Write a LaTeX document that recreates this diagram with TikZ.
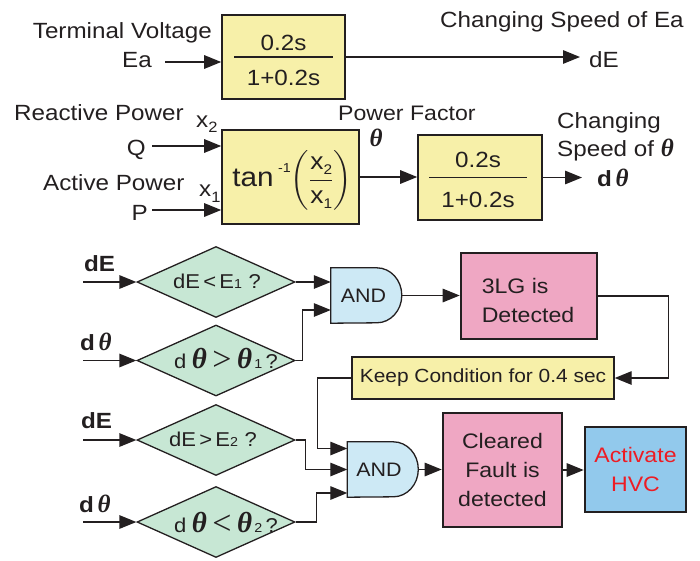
\documentclass[tikz,border=0pt]{standalone}
\usepackage{fontspec}
\usepackage{amsmath}
\setmainfont{Liberation Sans}[FakeStretch=1.1]
\newfontfamily\serifth{Liberation Serif}
\usetikzlibrary{shapes.geometric,arrows.meta,backgrounds,calc}
\definecolor{ink}{HTML}{231F20}
\definecolor{yel}{HTML}{F7F0A9}
\definecolor{grn}{HTML}{C7E7D4}
\definecolor{andc}{HTML}{CDE9F5}
\definecolor{pnk}{HTML}{EFA7C3}
\definecolor{hvcc}{HTML}{92C9EC}
\definecolor{redt}{HTML}{ED1C24}
\newcommand\fs[1]{\fontsize{#1}{#1}\selectfont}
\newcommand\thb[1][25]{{\fontsize{#1}{#1}\selectfont\serifth\bfseries\itshape θ}}
\tikzset{
 lbl/.style={inner sep=0pt, text=ink, font=\fs{22}},
 arr/.style={draw=ink, line width=1.35pt, -{Triangle[length=17pt,width=13.5pt]}},
 ln/.style={draw=ink, line width=1.3pt},
 blk/.style={draw=ink, fill=yel, line width=1.6pt, inner sep=0pt},
 dia/.style={shape=diamond, draw=ink, fill=grn, line width=1.3pt, inner sep=0pt, minimum width=158pt, minimum height=71pt},
 dtxt/.style={inner sep=0pt, anchor=base, text=ink, font=\fs{20}},
 andg/.style={inner sep=0pt, text=ink, minimum width=71pt, minimum height=55pt, font=\fs{19.5}},
 gate/.style={draw=ink, fill=andc, line width=1.3pt},
 res/.style={draw=ink, line width=2.6pt, inner sep=0pt, align=center, text=ink, font=\fontsize{21}{29}\selectfont},
}
\begin{document}
\begin{tikzpicture}[x=1pt,y=-1pt]
\useasboundingbox (0,0) rectangle (700,560);
% ---------- top transfer block ----------
\node[blk, minimum width=123pt, minimum height=84pt] (tf1) at (283.5,57) {};
\node[lbl, anchor=base] (tf1n) at (283.5,50) {0.2s};
\node[lbl, anchor=base] (tf1d) at (283.5,85) {1+0.2s};
\draw[ln] ([xshift=13pt]tf1.west) -- ([xshift=-13pt]tf1.east);
\node[lbl, anchor=base east] (tv) at (212,38) {Terminal Voltage};
\node[lbl, anchor=base east] (ea) at (152,67) {Ea};
\node[lbl, anchor=base west] (cse) at (440,27) {Changing Speed of Ea};
\node[lbl, anchor=base west] (dEl) at (589,67) {dE};
\coordinate (eaS) at (165,62);
\draw[arr] (eaS) -- (eaS -| tf1.west);
\coordinate (dEo) at (580,57);
\draw[arr] (tf1.east) -- (dEo);
% ---------- tan block ----------
\node[blk, minimum width=137pt, minimum height=94pt] (tanb) at (290.5,177) {};
\node[inner sep=0pt, text=ink] (tanx) at (292,180) {\fs{27}tan\,\raisebox{14pt}{\fs{13}-1}$\left(\dfrac{\hbox{\fs{24}x\lower5pt\hbox{\fs{14}2}}}{\hbox{\fs{24}x\lower5pt\hbox{\fs{14}1}}}\right)$};
\node[lbl, anchor=base west] (rp) at (14,120) {Reactive Power};
\node[lbl, anchor=base west] (x2) at (196,127) {x\lower5pt\hbox{\fs{15}2}};
\node[lbl, anchor=base east] (ql) at (146,155) {Q};
\node[lbl, anchor=base west] (apl) at (43,190) {Active Power};
\node[lbl, anchor=base west] (x1) at (199,196) {x\lower6pt\hbox{\fs{15}1}};
\node[lbl, anchor=base east] (pl) at (148,220) {P};
\coordinate (qS) at (152,146);
\coordinate (pS) at (152,210);
\draw[arr] (qS) -- (qS -| tanb.west);
\draw[arr] (pS) -- (pS -| tanb.west);
\node[lbl, anchor=base west, font=\fs{21}] (pfl) at (338,120) {Power Factor};
\node[inner sep=0pt, text=ink] (pft) at (376,138) {\thb[25]};
% ---------- second transfer block ----------
\node[blk, minimum width=124pt, minimum height=85pt] (tf3) at (480,177.5) {};
\node[lbl, anchor=base] (tf3n) at (478,167) {0.2s};
\node[lbl, anchor=base] (tf3d) at (478,207) {1+0.2s};
\draw[ln] ([xshift=12pt]tf3.west) -- ([xshift=-16pt]tf3.east);
\draw[arr] (tanb.east) -- (tanb.east -| tf3.west);
\coordinate (dto) at (582,177.5);
\draw[arr] (tf3.east) -- (dto);
\node[lbl, anchor=base west] (cst1) at (557,128) {Changing};
\node[lbl, anchor=base west] (cst2) at (557,156) {Speed of \thb};
\node[lbl, anchor=base west] (dtl) at (597,186) {\textbf{d}\,\thb};
% ---------- diamonds ----------
\node[dia] (d1) at (216,282) {};
\node[dia] (d2) at (216,360.5) {};
\node[dia] (d3) at (216,440) {};
\node[dia] (d4) at (216,522) {};
\node[dtxt] (d1t) at (217,288) {dE\,<\,E{\fs{13}1}\,\,?};
\node[dtxt] (d2t) at (226,368) {d\;\thb[29]\;\raisebox{-2pt}{\serifth\fs{34}>}\;\thb[29]{\fs{13}\,1}\,?};
\node[dtxt] (d3t) at (213,446) {dE\,>\,E{\fs{13}2}\,\,?};
\node[dtxt] (d4t) at (226,532) {d\;\thb[29]\;\raisebox{-2pt}{\serifth\fs{34}<}\;\thb[29]{\fs{13}\,2}\,?};
\node[lbl, anchor=base west, font=\fs{22}\bfseries] (lb1) at (84,271) {dE};
\node[lbl, anchor=base west, font=\fs{22}\bfseries] (lb2) at (80,350) {d\,\thb};
\node[lbl, anchor=base west, font=\fs{22}\bfseries] (lb3) at (81,428) {dE};
\node[lbl, anchor=base west, font=\fs{22}\bfseries] (lb4) at (79,512) {d\,\thb};
\coordinate (i1) at (83,282);
\coordinate (i2) at (83,360.5);
\coordinate (i3) at (83,440);
\coordinate (i4) at (83,522);
\draw[arr] (i1) -- (d1.west);
\draw[arr] (i2) -- (d2.west);
\draw[arr] (i3) -- (d3.west);
\draw[arr] (i4) -- (d4.west);
% ---------- AND gates ----------
\node[andg] (and1) at (366.5,295.5) {AND\hspace*{6pt}};
\node[andg] (and2) at (383,469.5) {AND\hspace*{8pt}};
\begin{scope}[on background layer]
\path[gate] (and1.north west) -- ++(46,0) arc[start angle=90,end angle=-90,x radius=25pt,y radius=27.5pt] -- (and1.south west) -- cycle;
\path[gate] (and2.north west) -- ++(46,0) arc[start angle=90,end angle=-90,x radius=25pt,y radius=27.5pt] -- (and2.south west) -- cycle;
\end{scope}
\draw[arr] (d1.east) -- (d1.east -| and1.west);
\draw[arr] (d2.east) -- ++(7,0) |- ($(and1.west)+(0,14.5)$);
% ---------- result boxes ----------
\node[res, fill=pnk, minimum width=136pt, minimum height=86pt] (b3lg) at (529,296) {};
\node[inner sep=0pt, align=left, text=ink, font=\fontsize{21}{29}\selectfont] (b3lgt) at (528,300.5) {3LG is\\Detected};
\draw[arr] (and1.east) -- (and1.east -| b3lg.west);
\node[blk, line width=1.4pt, minimum width=262pt, minimum height=42pt, text=ink, font=\fs{19}] (keep) at (483,378) {Keep Condition for 0.4 sec};
\draw[arr] (b3lg.east) -- ++(70,0) |- (keep.east);
\draw[arr] (keep.west) -- ++(-34,0) |- ($(and2.west)+(0,-21)$);
\draw[arr] (d3.east) -- ++(10,0) |- (and2.west);
\draw[arr] (d4.east) -- ++(21,0) |- ($(and2.west)+(0,23.5)$);
\node[res, fill=pnk, minimum width=119pt, minimum height=114pt] (bcf) at (502.5,470) {Cleared\\Fault is\\detected};
\node[res, fill=hvcc, text=redt, minimum width=101pt, minimum height=85pt] (hvc) at (635.5,469.5) {Activate\\HVC};
\draw[arr] (and2.east) -- (and2.east -| bcf.west);
\draw[arr] (bcf.east) -- (bcf.east -| hvc.west);
\end{tikzpicture}
\end{document}
